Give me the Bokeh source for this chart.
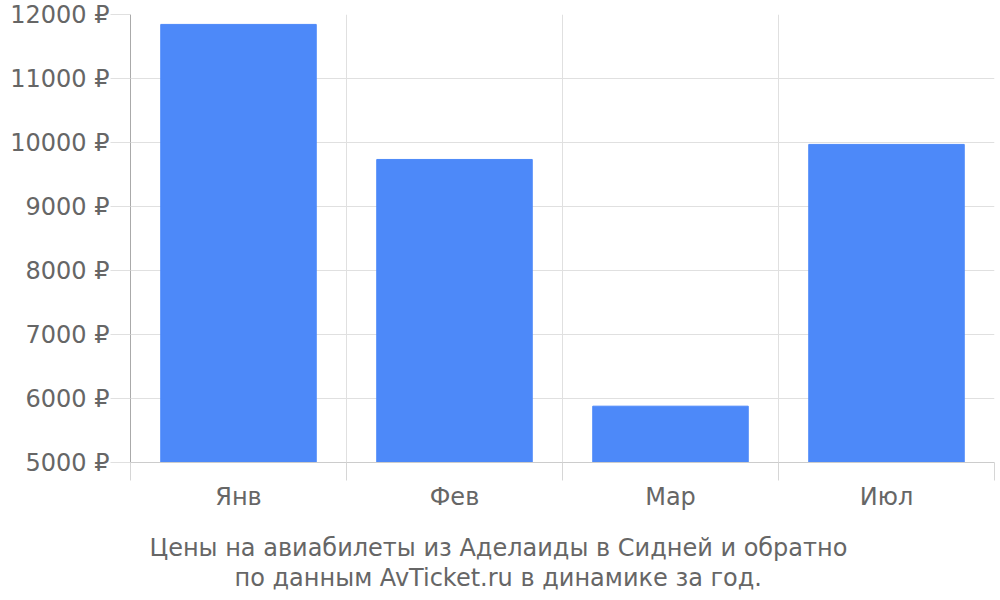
from bokeh.plotting import figure
from bokeh.models import FixedTicker, PrintfTickFormatter, Title, Range1d
from bokeh.embed import file_html
from bokeh.resources import INLINE

months = ["Янв", "Фев", "Мар", "Июл"]
prices = [11845, 9735, 5880, 9970]
y_ticks = [5000, 6000, 7000, 8000, 9000, 10000, 11000, 12000]
title_lines = [
    "Цены на авиабилеты из Аделаиды в Сидней и обратно",
    "по данным AvTicket.ru в динамике за год.",
]
title_offsets = [19, 104]

FONT = "DejaVu Sans"
TXT = "#666666"
GRID = "#e0e0e0"

n = len(months)
centers = [i + 0.5 for i in range(n)]
bounds = list(range(n + 1))
y0, y1 = y_ticks[0], y_ticks[-1]

p = figure(width=1000, height=600, output_backend="svg", toolbar_location=None,
           x_range=Range1d(0, n), y_range=Range1d(y0, y1),
           min_border_left=130, min_border_right=6, min_border_top=14,
           min_border_bottom=138)
p.outline_line_color = None
p.background_fill_color = "white"
p.border_fill_color = "white"

p.vbar(x=centers, top=prices, bottom=y0, width=0.72,
       fill_color="#4d89f9", line_color="#4d89f9")

# x axis
xa = p.xaxis[0]
xa.ticker = FixedTicker(ticks=centers, minor_ticks=bounds)
xa.major_label_overrides = {c: m for c, m in zip(centers, months)}
xa.major_tick_line_color = None
xa.major_tick_in = 0
xa.major_tick_out = 0
xa.minor_tick_in = 0
xa.minor_tick_out = 18
xa.minor_tick_line_color = "#d6d6d6"
xa.axis_line_color = "#cccccc"
xa.major_label_text_font = FONT
xa.major_label_text_font_size = "24px"
xa.major_label_text_color = TXT
xa.major_label_standoff = 2

p.xgrid.ticker = FixedTicker(ticks=bounds)
p.xgrid.grid_line_color = GRID

# y axis
ya = p.yaxis[0]
ya.ticker = FixedTicker(ticks=y_ticks)
ya.formatter = PrintfTickFormatter(format="%d ₽")
ya.major_tick_in = 0
ya.major_tick_out = 20
ya.major_tick_line_color = GRID
ya.minor_tick_line_color = None
ya.axis_line_color = "#aaaaaa"
ya.major_label_text_font = FONT
ya.major_label_text_font_size = "24px"
ya.major_label_text_color = TXT
ya.major_label_standoff = 1

p.ygrid.grid_line_color = GRID

# spacer between the month labels and the caption
p.add_layout(Title(text=" ", text_font_size="1px", standoff=15), "below")

for line, off in zip(title_lines, title_offsets):
    p.add_layout(Title(text=line, align="left", offset=off, standoff=0,
                       text_font=FONT, text_font_size="24px",
                       text_font_style="normal", text_color=TXT), "below")

open("out.html", "w").write(file_html(p, INLINE))
